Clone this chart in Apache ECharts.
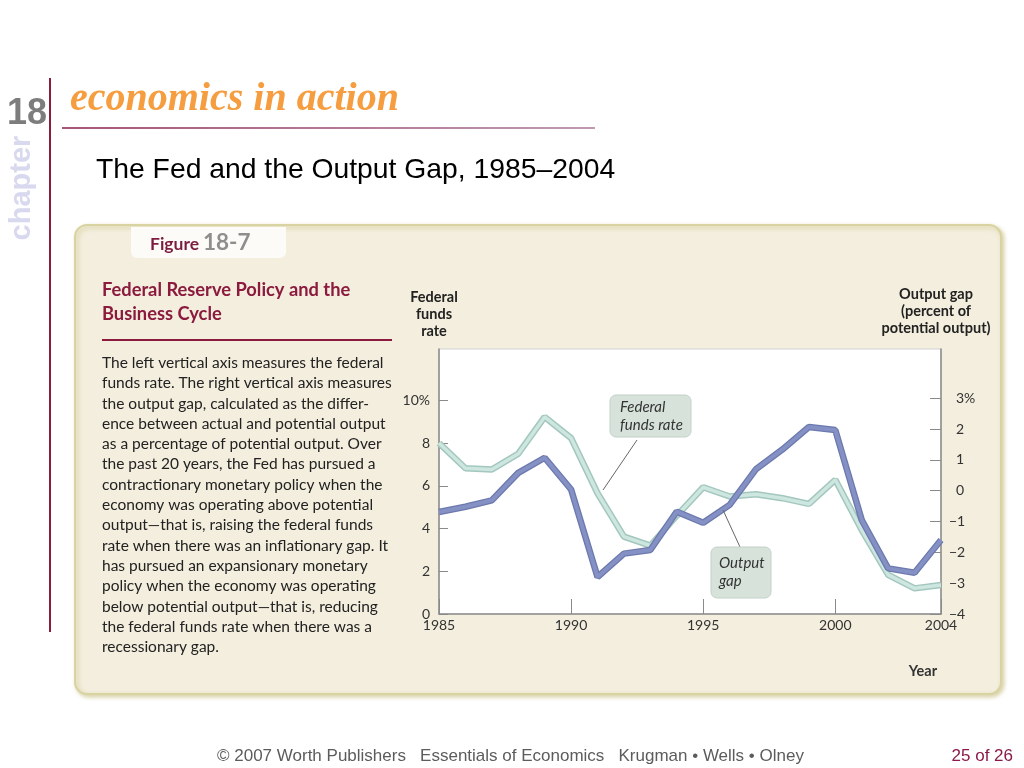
<!DOCTYPE html>
<html>
<head>
<meta charset="utf-8">
<script src="https://cdn.jsdelivr.net/npm/echarts@6/dist/echarts.min.js"></script>
<style>
html,body{margin:0;padding:0;background:#fff;}
#c{width:1024px;height:768px;}
</style>
</head>
<body>
<div id="c"></div>
<script>
// ---- data ----
const years = [1985,1986,1987,1988,1989,1990,1991,1992,1993,1994,1995,1996,1997,1998,1999,2000,2001,2002,2003,2004];
const fedFundsRate = [8.0,6.82,6.76,7.5,9.22,8.23,5.65,3.62,3.2,4.6,5.93,5.5,5.6,5.42,5.15,6.28,3.93,1.83,1.2,1.36];
const outputGap = [-0.69,-0.52,-0.31,0.58,1.07,0.04,-2.8,-2.04,-1.92,-0.68,-1.04,-0.46,0.7,1.34,2.07,1.97,-0.95,-2.52,-2.66,-1.6];
const xTicks = [1985,1990,1995,2000,2004];
const leftTicks = [0,2,4,6,8,10];
const rightTicks = [-4,-3,-2,-1,0,1,2,3];
const bodyLines = [
 "The left vertical axis measures the federal",
 "funds rate. The right vertical axis measures",
 "the output gap, calculated as the differ-",
 "ence between actual and potential output",
 "as a percentage of potential output. Over",
 "the past 20 years, the Fed has pursued a",
 "contractionary monetary policy when the",
 "economy was operating above potential",
 "output\u2014that is, raising the federal funds",
 "rate when there was an inflationary gap. It",
 "has pursued an expansionary monetary",
 "policy when the economy was operating",
 "below potential output\u2014that is, reducing",
 "the federal funds rate when there was a",
 "recessionary gap."
];

const fedPts = years.map((y,i)=>[y, fedFundsRate[i]]);
const gapPts = years.map((y,i)=>[y, outputGap[i]]);

const SANS = 'Lato, "Open Sans", sans-serif';
const ARIAL = '"Liberation Sans", Arial, sans-serif';
const chart = echarts.init(document.getElementById('c'), null, {renderer:'canvas'});

function txt(x,y,text,style,extra){
  return Object.assign({type:'text', x:x, y:y, style:Object.assign({text:text}, style)}, extra||{});
}

const graphics = [
  // slide decorations
  {type:'line', z:-5, shape:{x1:50,y1:78,x2:50,y2:632}, style:{stroke:'#8b1c3c', lineWidth:2}},
  {type:'line', z:-5, shape:{x1:62,y1:128,x2:595,y2:128}, style:{stroke:new echarts.graphic.LinearGradient(0,0,1,0,[{offset:0,color:'#8b1c4a'},{offset:1,color:'#a8789a'}]), lineWidth:1.5}},
  txt(47,114,'18',{fontFamily:ARIAL, fontWeight:'bold', fontSize:36, fill:'#7d7d7d', textAlign:'right', textVerticalAlign:'middle'}),
  txt(22,188,'chapter',{fontFamily:ARIAL, fontWeight:'bold', fontSize:29, fill:'#d8d8ee', textAlign:'center', textVerticalAlign:'middle'},{rotation:Math.PI/2, z:-6}),
  txt(70,100,'economics in action',{fontFamily:'"Liberation Serif", "Times New Roman", serif', fontWeight:'bold', fontStyle:'italic', fontSize:40, fill:'#f59d3f', textVerticalAlign:'middle'}),
  txt(96,170,'The Fed and the Output Gap, 1985\u20132004',{fontFamily:ARIAL, fontSize:28.3, fill:'#000', textVerticalAlign:'middle'}),
  // figure box
  {type:'rect', z:-10, shape:{x:75,y:225,width:926,height:469,r:12}, style:{fill:'#f3eedd', stroke:'#d9d3a2', lineWidth:2, shadowBlur:4, shadowOffsetX:2, shadowOffsetY:2, shadowColor:'rgba(190,180,110,0.6)'}},
  {type:'rect', z:-9, shape:{x:131,y:227,width:155,height:31,r:[0,0,6,6]}, style:{fill:'#fcfbf7'}},
  txt(150,244,'Figure',{fontFamily:SANS, fontWeight:'bold', fontSize:17.5, fill:'#7c1d40', textVerticalAlign:'middle'}),
  txt(203,243,'18-7',{fontFamily:SANS, fontWeight:'bold', fontSize:22.5, fill:'#8e8e8e', textVerticalAlign:'middle'}),
  txt(102,302,'Federal Reserve Policy and the\nBusiness Cycle',{fontFamily:SANS, fontWeight:'bold', fontSize:18.3, lineHeight:24, fill:'#8b1a3e', textVerticalAlign:'middle'}),
  {type:'line', z:-5, shape:{x1:102,y1:340,x2:392,y2:340}, style:{stroke:'#8b1a3e', lineWidth:2}},
  txt(102,352.8,bodyLines.join('\n'),{fontFamily:SANS, fontSize:15.5, lineHeight:20.3, fill:'#222'}),
  // axis titles
  txt(434,314,'Federal\nfunds\nrate',{fontFamily:SANS, fontWeight:'bold', fontSize:14.5, lineHeight:17, fill:'#222', textAlign:'center', textVerticalAlign:'middle'}),
  txt(936,311,'Output gap\n(percent of\npotential output)',{fontFamily:SANS, fontWeight:'bold', fontSize:14.5, lineHeight:17, fill:'#222', textAlign:'center', textVerticalAlign:'middle'}),
  txt(923,671,'Year',{fontFamily:SANS, fontWeight:'bold', fontSize:14.5, fill:'#333', textAlign:'center', textVerticalAlign:'middle'}),
  // callouts
  {type:'line', z:50, shape:{x1:637,y1:440,x2:603,y2:490}, style:{stroke:'#666', lineWidth:1}},
  {type:'rect', z:50, shape:{x:610,y:395,width:81,height:42,r:6}, style:{fill:'#d7e3da', stroke:'#c4d2c8', lineWidth:1}},
  txt(620,416,'Federal\nfunds rate',{fontFamily:SANS, fontStyle:'italic', fontSize:15, lineHeight:18, fill:'#333', textVerticalAlign:'middle'},{z:51}),
  {type:'line', z:50, shape:{x1:723,y1:510,x2:740,y2:547}, style:{stroke:'#666', lineWidth:1}},
  {type:'rect', z:50, shape:{x:711,y:547,width:60,height:51,r:6}, style:{fill:'#d7e3da', stroke:'#c4d2c8', lineWidth:1}},
  txt(719,572,'Output\ngap',{fontFamily:SANS, fontStyle:'italic', fontSize:15, lineHeight:18, fill:'#333', textVerticalAlign:'middle'},{z:51}),
  // footer
  txt(217,756,'\u00a9 2007 Worth Publishers   Essentials of Economics   Krugman \u2022 Wells \u2022 Olney',{fontFamily:ARIAL, fontSize:17, fill:'#5c5c5c', textVerticalAlign:'middle'}),
  txt(1013,756,'25 of 26',{fontFamily:ARIAL, fontSize:17, fill:'#8b1a4a', textAlign:'right', textVerticalAlign:'middle'})
];

const option = {
  animation:false,
  backgroundColor:'#fff',
  graphic:{elements:graphics},
  grid:{left:439, right:83, top:349, bottom:154, show:true, backgroundColor:'#fff', borderColor:'#d2d2d2', borderWidth:1, z:0},
  xAxis:{
    type:'value', min:1985, max:2004,
    axisLine:{show:true, lineStyle:{color:'#8a8a8a', width:1.5}},
    axisTick:{show:true, inside:true, length:15, customValues:xTicks, lineStyle:{color:'#8a8a8a'}},
    axisLabel:{customValues:xTicks, margin:4, fontFamily:SANS, fontSize:14, color:'#333', formatter:v=>String(v)},
    splitLine:{show:false}
  },
  yAxis:[
    {type:'value', min:0, max:12.4, position:'left',
     axisLine:{show:true, lineStyle:{color:'#8a8a8a', width:1.5}},
     axisTick:{show:true, inside:true, length:9, customValues:leftTicks, lineStyle:{color:'#8a8a8a'}},
     axisLabel:{customValues:leftTicks, margin:9, fontFamily:SANS, fontSize:14, color:'#333', formatter:v=> v===10 ? '10%' : String(v)},
     splitLine:{show:false}},
    {type:'value', min:-4, max:4.6, position:'right',
     axisLine:{show:true, lineStyle:{color:'#8a8a8a', width:1.5}},
     axisTick:{show:true, inside:true, length:11, customValues:rightTicks, lineStyle:{color:'#8a8a8a'}},
     axisLabel:{customValues:rightTicks, margin:8, fontFamily:SANS, fontSize:14, color:'#333', formatter:v=> v<0 ? '\u2212'+Math.abs(v) : '\u2002'+v+(v===3?'%':'')},
     splitLine:{show:false}}
  ],
  series:[
    {name:'Federal funds rate (edge)', type:'line', yAxisIndex:0, data:fedPts, symbol:'none', z:3, lineStyle:{color:'#a3c7be', width:6.5}},
    {name:'Federal funds rate', type:'line', yAxisIndex:0, data:fedPts, symbol:'none', z:4, lineStyle:{color:'#cde6df', width:3.5}},
    {name:'Output gap (edge)', type:'line', yAxisIndex:1, data:gapPts, symbol:'none', z:5, lineStyle:{color:'#6b79ad', width:6.5}},
    {name:'Output gap', type:'line', yAxisIndex:1, data:gapPts, symbol:'none', z:6, lineStyle:{color:'#8591c4', width:4}}
  ]
};
chart.setOption(option);
</script>
</body>
</html>
